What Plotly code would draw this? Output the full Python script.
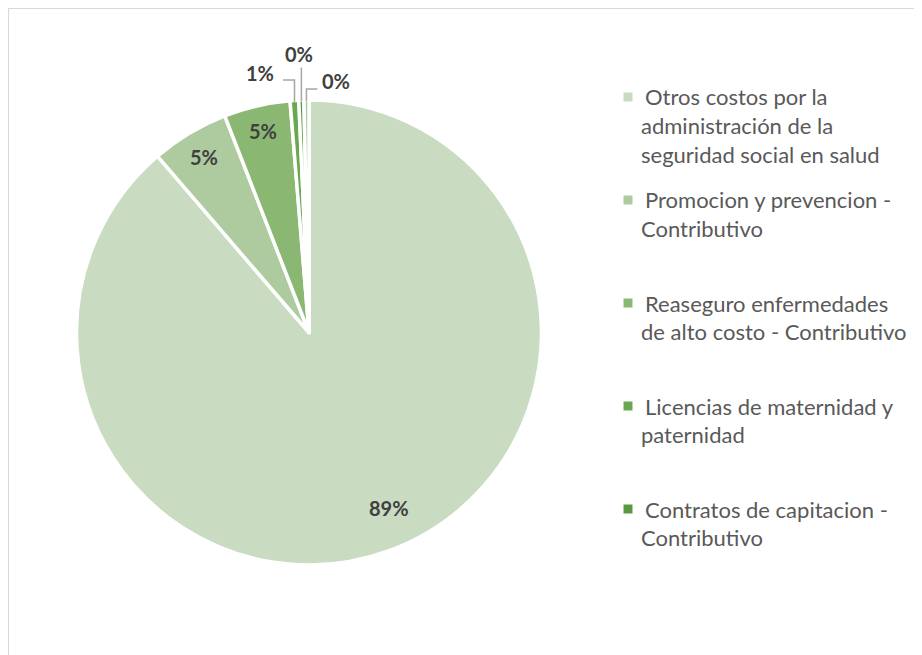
import math
import plotly.graph_objects as go

# Datos del gráfico
labels = [
    "Otros costos por la administración de la seguridad social en salud",
    "Promocion y prevencion - Contributivo",
    "Reaseguro enfermedades de alto costo - Contributivo",
    "Licencias de maternidad y paternidad",
    "Contratos de capitacion - Contributivo",
    "Otros - Contributivo",
]
values = [88.7, 5.4, 4.6, 0.6, 0.35, 0.35]
colors = ["#c9dbc0", "#adcb9e", "#8ab872", "#6aa84f", "#5a9a3f", "#a9cc98"]

# texto de la leyenda (partido en lineas como en el original)
legend_lines = [
    ["Otros costos por la", "administración de la", "seguridad social en salud"],
    ["Promocion y prevencion -", "Contributivo"],
    ["Reaseguro enfermedades", "de alto costo - Contributivo"],
    ["Licencias de maternidad y", "paternidad"],
    ["Contratos de capitacion -", "Contributivo"],
]

W, H = 922, 655
OFF = 8  # margen del body de la pagina
cx, cy, R = 309, 332.5, 232.5
FONT = "Lato"
LABEL_COLOR = "#404040"
LEADER_COLOR = "#a6a6a6"


def paper(x, y):
    # coordenadas de pagina (px) -> paper
    return (x - OFF) / W, 1 - (y - OFF) / H


total = sum(values)
pct_text = [f"{v / total * 100:.0f}%" for v in values]
mid_angle = []
acc = 0
for v in values:
    mid_angle.append((acc + v / 2) / total * 360)
    acc += v

dx0, dy0 = paper(cx - R, cy + R)
dx1, dy1 = paper(cx + R, cy - R)
fig = go.Figure(go.Pie(
    labels=labels, values=values, sort=False, direction="clockwise", rotation=0,
    marker=dict(colors=colors, line=dict(color="white", width=3.5)),
    textinfo="none", hoverinfo="label+percent", showlegend=False,
    domain=dict(x=[dx0, dx1], y=[dy0, dy1]),
))

annotations = []
shapes = []
lbl_font = dict(family=FONT, size=20, color=LABEL_COLOR, weight="bold")

# etiquetas dentro de las porciones grandes (radio relativo, ajuste de angulo)
inside = {0: (0.83, -4), 1: (0.88, 0), 2: (0.89, 0)}
for i, (rf, da) in inside.items():
    a = math.radians(mid_angle[i] + da)
    x, y = paper(cx + rf * R * math.sin(a), cy - rf * R * math.cos(a))
    annotations.append(dict(x=x, y=y, xref="paper", yref="paper", text=pct_text[i], showarrow=False,
                            xanchor="center", yanchor="middle", font=lbl_font))

# etiquetas fuera con lineas guia: (subida, tramo horizontal, dx etiqueta, dy etiqueta)
outside = {3: (22, -11.5, -34, -29), 4: (34, 0, -2.5, -47.5), 5: (12.5, 11, 29.5, -20.5)}
r_edge = 231
for i, (up, side, ldx, ldy) in outside.items():
    a = math.radians(mid_angle[i])
    ex = cx + r_edge * math.sin(a)
    ey = cy - r_edge * math.cos(a)
    pts = [(ex, ey), (ex, ey - up)]
    if side:
        pts.append((ex + side, ey - up))
    path = "M " + " L ".join(f"{paper(px, py)[0]:.5f},{paper(px, py)[1]:.5f}" for px, py in pts)
    shapes.append(dict(type="path", path=path, xref="paper", yref="paper",
                       line=dict(color=LEADER_COLOR, width=1.5)))
    x, y = paper(ex + ldx, ey + ldy)
    annotations.append(dict(x=x, y=y, xref="paper", yref="paper", text=pct_text[i], showarrow=False,
                            xanchor="center", yanchor="middle", font=lbl_font))

# leyenda dibujada a mano
for k, lines in enumerate(legend_lines):
    y0 = 97 + k * 103
    x0, y_ = paper(623.5, y0 - 4.5)
    x1, y1 = paper(632.5, y0 + 4.5)
    shapes.append(dict(type="rect", xref="paper", yref="paper", x0=x0, x1=x1, y0=y_, y1=y1,
                       fillcolor=colors[k], line=dict(width=0)))
    for j, line in enumerate(lines):
        tx = 642.5 if j == 0 else 638.5
        x, y = paper(tx, y0 + j * 28.5)
        annotations.append(dict(x=x, y=y, xref="paper", yref="paper", text=line, showarrow=False,
                                xanchor="left", yanchor="middle",
                                font=dict(family=FONT, size=22, color="#595959")))

# marco del area del grafico
fx0, fy0 = paper(OFF + 0.5, OFF + 0.5)
fx1, fy1 = paper(W + 20, H + 20)
shapes.append(dict(type="rect", xref="paper", yref="paper", x0=fx0, y0=fy0, x1=fx1, y1=fy1,
                   line=dict(color="#d9d9d9", width=1.2), fillcolor="rgba(0,0,0,0)"))

fig.update_layout(
    width=W, height=H, autosize=False,
    margin=dict(l=0, r=0, t=0, b=0),
    paper_bgcolor="white", plot_bgcolor="white",
    annotations=annotations, shapes=shapes,
    font=dict(family=FONT),
)

fig.write_html("out.html")
